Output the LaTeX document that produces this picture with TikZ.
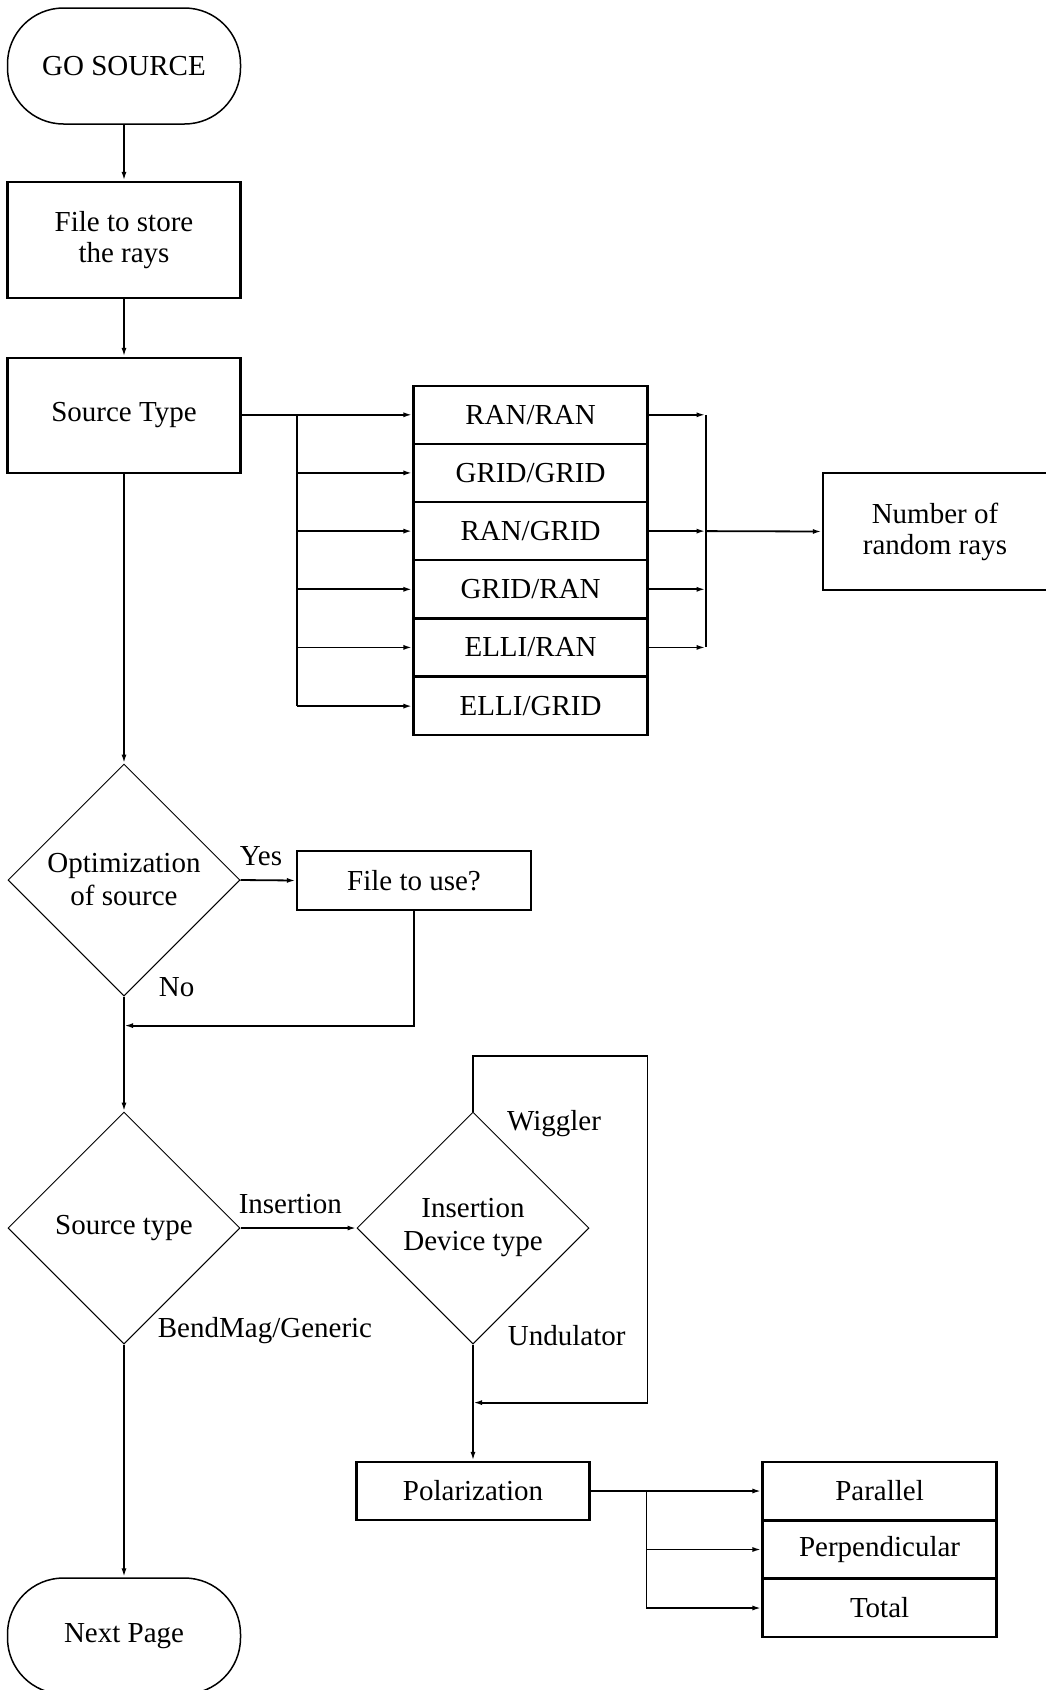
\documentclass[tikz,border=0pt]{standalone}
\usepackage{fontspec}
\setmainfont{Liberation Serif}
\usetikzlibrary{shapes.geometric,arrows.meta}
\begin{document}
\begin{tikzpicture}[x=1pt,y=-1pt,
  font=\fontsize{29}{31}\selectfont,
  box/.style={draw, line width=2.4pt, minimum width=233pt, inner sep=0pt, align=center},
  term/.style={draw, line width=1.5pt, rounded corners=56pt, minimum width=233pt, minimum height=116pt, inner sep=0pt, align=center},
  dia/.style={draw, diamond, line width=1pt, minimum width=232pt, minimum height=232pt, inner sep=0pt, align=center, font=\fontsize{29}{33}\selectfont},
  ln/.style={line width=1.8pt},
  arr/.style={line width=1.8pt, -{Latex[length=9pt,width=5pt]}},
  lbl/.style={inner sep=0pt}
]
\useasboundingbox (0,0) rectangle (1045,1690);

% main column
\node[term] (go) at (124,66) {GO SOURCE};
\node[box, minimum height=116pt] (file) at (124,240) {File to store\\the rays};
\node[box, minimum height=115pt] (stype) at (124,415.5) {Source Type};
\node[dia] (opt) at (124,880) {Optimization\\of source};
\node[box, minimum width=234pt, minimum height=59pt] (use) at (414,880.5) {File to use?};
\node[dia] (src) at (124,1228) {Source type};
\node[dia] (idt) at (473,1228) {Insertion\\Device type};
\node[box, minimum height=58pt] (pol) at (473,1491) {Polarization};
\node[term] (next) at (124,1636) {Next Page};

% source type choices
\node[box, minimum width=234pt, minimum height=58.2pt] (b1) at (530.6,414.8) {RAN/RAN};
\node[box, minimum width=234pt, minimum height=58.2pt] (b2) at (530.6,472.9) {GRID/GRID};
\node[box, minimum width=234pt, minimum height=58.2pt] (b3) at (530.6,531.1) {RAN/GRID};
\node[box, minimum width=234pt, minimum height=58.2pt] (b4) at (530.6,589.3) {GRID/RAN};
\node[box, minimum width=234pt, minimum height=58.2pt] (b5) at (530.6,647.4) {ELLI/RAN};
\node[box, minimum width=234pt, minimum height=58.2pt] (b6) at (530.6,706.1) {ELLI/GRID};
\node[box, minimum width=224pt, minimum height=117pt] (num) at (935,531.5) {Number of\\random rays};

% polarization choices
\node[box, minimum width=234pt, minimum height=58pt] (par) at (879.6,1491) {Parallel};
\node[box, minimum width=234pt, minimum height=58pt] (perp) at (879.6,1549.5) {Perpendicular};
\node[box, minimum width=234pt, minimum height=58pt] (tot) at (879.6,1608) {Total};

% labels
\node[lbl] (yes) at (261,856.5) {Yes};
\node[lbl] (no) at (176.7,987) {No};
\node[lbl] (ins) at (290.3,1204.4) {Insertion};
\node[lbl] (bend) at (265,1330.5) {BendMag/Generic};
\node[lbl] (wig) at (554,1123.6) {Wiggler};
\node[lbl] (und) at (566.7,1335.8) {Undulator};

% coordinates
\coordinate (lb) at (297.3,414.8);
\coordinate (rb) at (705.6,414.8);
\coordinate (join) at (124,1025.6);
\coordinate (lpTR) at (647.5,1055.8);
\coordinate (lpBR) at (647.5,1402.6);
\coordinate (pb) at (646.4,1491);

% connectors
\draw[arr] (go) -- (file);
\draw[arr] (file) -- (stype);
\draw[arr] (b1.west -| stype.east) -- (b1.west);
\draw[ln] (lb) -- (lb |- b6.west);
\draw[arr] (lb |- b2.west) -- (b2.west);
\draw[arr] (lb |- b3.west) -- (b3.west);
\draw[arr] (lb |- b4.west) -- (b4.west);
\draw[arr] (lb |- b5.west) -- (b5.west);
\draw[arr] (lb |- b6.west) -- (b6.west);
\draw[ln] (rb) -- (rb |- b5.east);
\draw[arr] (b1.east) -- (b1.east -| rb);
\draw[arr] (b3.east) -- (b3.east -| rb);
\draw[arr] (b4.east) -- (b4.east -| rb);
\draw[arr] (b5.east) -- (b5.east -| rb);
\draw[arr] (b3.east -| rb) -- (num.west);

\draw[arr] (stype) -- (opt.north);
\draw[arr] (opt.east) -- (use.west);
\draw[arr] (use.south) |- (join);
\draw[arr] (opt.south) -- (src.north);
\draw[arr] (src.east) -- (idt.west);
\draw[arr] (idt.north) |- (lpTR) -- (lpBR) -- (lpBR -| idt.south);
\draw[arr] (idt.south) -- (pol.north);
\draw[arr] (src.south) -- (next.north);

\draw[arr] (pol.east) -- (par.west);
\draw[ln] (pb) -- (pb |- tot.west);
\draw[arr] (pb |- perp.west) -- (perp.west);
\draw[arr] (pb |- tot.west) -- (tot.west);
\end{tikzpicture}
\end{document}
